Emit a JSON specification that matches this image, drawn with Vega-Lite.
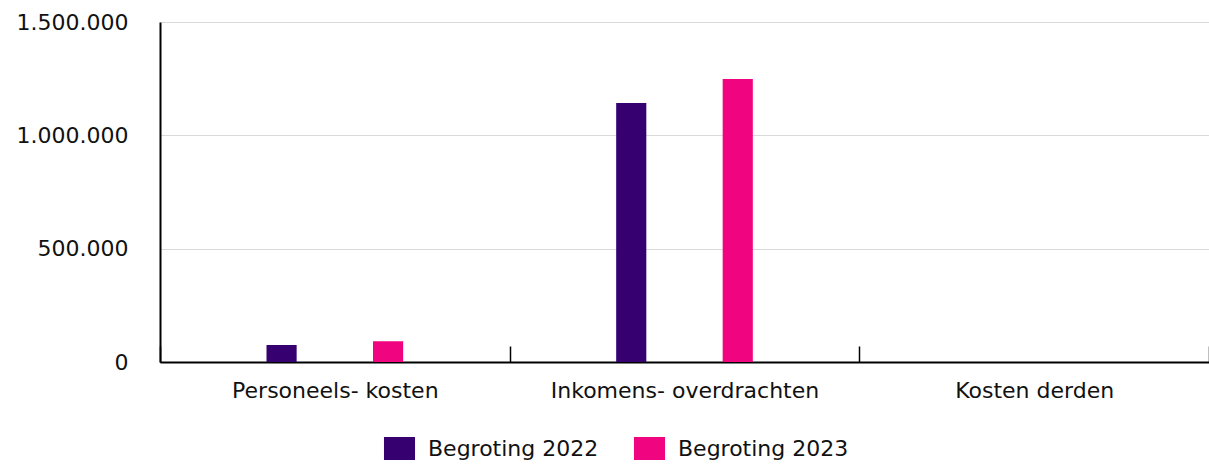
{
  "$schema": "https://vega.github.io/schema/vega-lite/v6.json",
  "width": 1049,
  "height": 340,
  "autosize": {"type": "none"},
  "padding": {"left": 160, "top": 22, "right": 0, "bottom": 102},
  "background": "white",
  "data": {
    "values": [
      {"categorie": "Personeels- kosten", "reeks": "Begroting 2022", "bedrag": 75000},
      {"categorie": "Personeels- kosten", "reeks": "Begroting 2023", "bedrag": 91500},
      {"categorie": "Inkomens- overdrachten", "reeks": "Begroting 2022", "bedrag": 1143000},
      {"categorie": "Inkomens- overdrachten", "reeks": "Begroting 2023", "bedrag": 1248000},
      {"categorie": "Kosten derden", "reeks": "Begroting 2022", "bedrag": 0},
      {"categorie": "Kosten derden", "reeks": "Begroting 2023", "bedrag": 0}
    ]
  },
  "mark": {"type": "bar"},
  "encoding": {
    "x": {
      "field": "categorie",
      "type": "nominal",
      "sort": ["Personeels- kosten", "Inkomens- overdrachten", "Kosten derden"],
      "scale": {"paddingInner": 0, "paddingOuter": 0},
      "axis": {
        "title": null,
        "labelAngle": 0,
        "labelFont": "DejaVu Sans",
        "labelFontSize": 22,
        "labelColor": "#111111",
        "labelPadding": 34,
        "labelBaseline": "top",
        "labelLimit": 400,
        "domainColor": "#000000",
        "domainWidth": 2,
        "ticks": true,
        "tickBand": "extent",
        "tickSize": -16,
        "tickColor": "#000000",
        "tickWidth": 1.5,
        "grid": false
      }
    },
    "xOffset": {
      "field": "reeks",
      "type": "nominal",
      "scale": {"paddingInner": 0.717, "paddingOuter": 1.0}
    },
    "y": {
      "field": "bedrag",
      "type": "quantitative",
      "scale": {"domain": [0, 1500000], "nice": false},
      "axis": {
        "title": null,
        "values": [0, 500000, 1000000, 1500000],
        "labelExpr": "replace(format(datum.value, ','), /,/g, '.')",
        "labelFont": "DejaVu Sans",
        "labelFontSize": 22,
        "labelColor": "#111111",
        "labelPadding": 32,
        "ticks": false,
        "domainColor": "#000000",
        "domainWidth": 2,
        "gridColor": "#d9d9d9",
        "gridWidth": 1
      }
    },
    "color": {
      "field": "reeks",
      "type": "nominal",
      "scale": {"domain": ["Begroting 2022", "Begroting 2023"], "range": ["#360070", "#f0047f"]},
      "legend": {
        "title": null,
        "orient": "none",
        "direction": "horizontal",
        "legendX": 228,
        "legendY": 415,
        "symbolType": "M-1.35,-1H1.35V1H-1.35Z",
        "symbolSize": 529,
        "symbolStrokeWidth": 0,
        "symbolOpacity": 1,
        "labelFont": "DejaVu Sans",
        "labelFontSize": 22,
        "labelColor": "#111111",
        "labelOffset": 17,
        "labelLimit": 400,
        "columnPadding": 34
      }
    }
  },
  "config": {
    "view": {"stroke": null}
  }
}
